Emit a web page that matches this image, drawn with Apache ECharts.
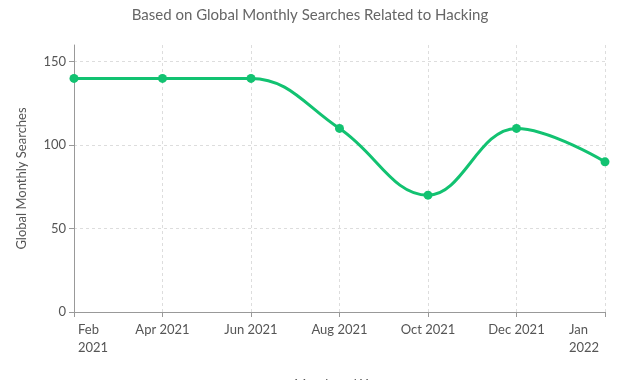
<!DOCTYPE html>
<html>
<head>
<meta charset="utf-8">
<script src="https://cdn.jsdelivr.net/npm/echarts@6/dist/echarts.min.js"></script>
<style>html,body{margin:0;padding:0;background:#fff}#c{width:620px;height:380px}</style>
</head>
<body>
<div id="c"></div>
<script>
const categories = ['Feb 2021', 'Apr 2021', 'Jun 2021', 'Aug 2021', 'Oct 2021', 'Dec 2021', 'Jan 2022'];
const searches = [140, 140, 140, 110, 70, 110, 90];
const yTicks = [0, 50, 100, 150];
const titleText = 'Based on Global Monthly Searches Related to Hacking';
const yAxisName = 'Global Monthly Searches';
const xAxisName = 'Month and Year';

const chart = echarts.init(document.getElementById('c'));
const font = 'Lato, "Noto Sans", sans-serif';
const labelBase = { fontFamily: font, fontSize: 13, color: '#555', lineHeight: 18 };
chart.setOption({
  animation: false,
  title: {
    text: titleText, left: 'center', top: 3,
    textStyle: { fontFamily: font, fontSize: 15, fontWeight: 'normal', color: '#666' }
  },
  grid: { left: 74, right: 15, top: 45, bottom: 68, outerBoundsMode: 'none', containLabel: false },
  xAxis: {
    type: 'category', data: categories, boundaryGap: false,
    name: xAxisName, nameLocation: 'middle', nameGap: 66,
    nameTextStyle: { fontFamily: font, fontSize: 13, color: '#555' },
    axisLine: { lineStyle: { color: '#999' } },
    axisTick: { show: true, length: 5, alignWithLabel: true, lineStyle: { color: '#999' } },
    axisLabel: Object.assign({}, labelBase, {
      margin: 9, interval: 0, alignMinLabel: 'left', alignMaxLabel: 'right',
      formatter: (v, i) => {
        if (i === 0) return '{f|' + v.replace(' ', '\n') + '}';
        if (i === categories.length - 1) return '{l|' + v.replace(' ', '\n') + '}';
        return v;
      },
      rich: {
        f: Object.assign({}, labelBase, { padding: [0, 0, 0, 4], align: 'left' }),
        l: Object.assign({}, labelBase, { width: 33, padding: [0, 3, 0, 0], align: 'left' })
      }
    }),
    splitLine: { show: true, lineStyle: { color: '#ddd', type: [3, 3] } }
  },
  yAxis: {
    type: 'value', min: yTicks[0], max: 160, interval: yTicks[1] - yTicks[0],
    name: yAxisName, nameLocation: 'middle', nameGap: 46,
    nameTextStyle: { fontFamily: font, fontSize: 13, color: '#555' },
    axisLine: { show: true, lineStyle: { color: '#999' } },
    axisTick: { show: true, length: 5, lineStyle: { color: '#999' } },
    axisLabel: { fontFamily: font, fontSize: 13, color: '#555', margin: 8, showMaxLabel: false },
    splitLine: { show: true, showMaxLine: false, lineStyle: { color: '#ddd', type: [3, 3] } }
  },
  series: [{
    type: 'line', data: searches, smooth: 0.4,
    symbol: 'circle', symbolSize: 9,
    lineStyle: { color: '#12c271', width: 3 },
    itemStyle: { color: '#12c271' }
  }]
});
</script>
</body>
</html>
